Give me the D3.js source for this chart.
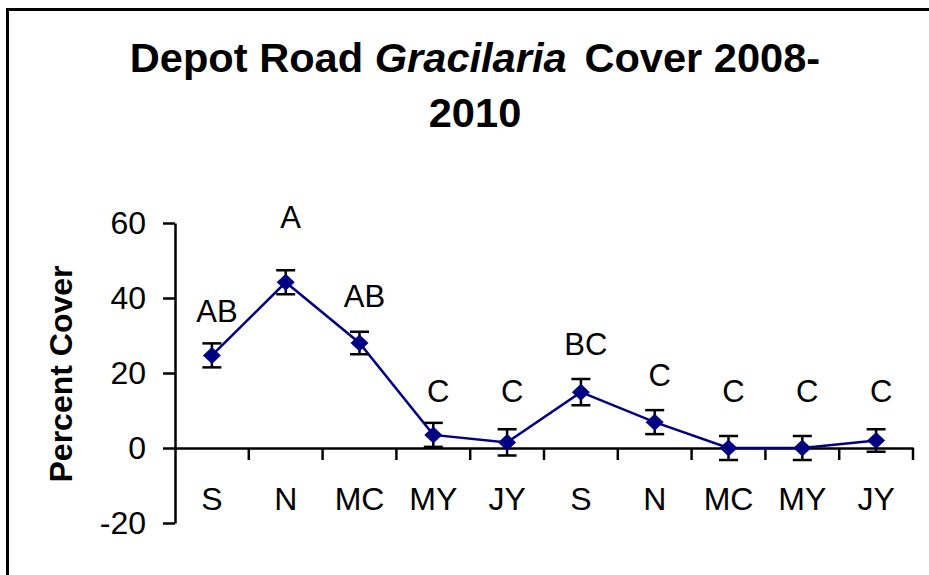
<!DOCTYPE html>
<html>
<head>
<meta charset="utf-8">
<script src="https://cdn.jsdelivr.net/npm/d3@7"></script>
<style>
    body { margin: 0; background: #fff; }
    svg { display: block; }
    svg text { font-family: "Liberation Sans", Arial, sans-serif; }
</style>
</head>
<body>
<svg id="chart" width="929" height="575"></svg>
<script>
// sampling months, two seasons
const months = ["S", "N", "MC", "MY", "JY", "S", "N", "MC", "MY", "JY"];
const cover = [24.7, 44.2, 28.0, 3.5, 1.5, 14.9, 6.9, 0, 0, 2.0];
const stdErr = [3.2, 3.2, 3.0, 3.2, 3.5, 3.5, 3.2, 3.2, 3.2, 3.0];
// significance groups and the value height they sit at
const groups = ["AB", "A", "AB", "C", "C", "BC", "C", "C", "C", "C"];
const groupAt = [33.5, 58.8, 37.5, 12.2, 12.2, 24.7, 16.5, 12.2, 12.2, 12.2];
const yTicks = [-20, 0, 20, 40, 60];

const svg = d3.select("#chart");
const navy = "#000080";

// outer frame (runs off the right/bottom edge like the original)
svg.append("rect")
    .attr("x", 7.5).attr("y", 9.5)
    .attr("width", 960).attr("height", 600)
    .attr("fill", "none").attr("stroke", "#000").attr("stroke-width", 3);

// title
const title = svg.append("text")
    .attr("text-anchor", "middle")
    .attr("font-weight", "bold")
    .attr("font-size", 40)
    .attr("transform", "translate(475,72) scale(1.04,1)");
title.append("tspan").text("Depot Road ");
title.append("tspan").attr("font-style", "italic").text("Gracilaria");
title.append("tspan").attr("dx", 6).text(" Cover 2008-");
svg.append("text")
    .attr("text-anchor", "middle")
    .attr("font-weight", "bold")
    .attr("font-size", 40)
    .attr("transform", "translate(475,127) scale(1.04,1)")
    .text("2010");

const x = d3.scaleBand()
    .domain(d3.range(months.length))
    .range([175, 913]);

const y = d3.scaleLinear()
    .domain([-20, 60])
    .range([523, 223]);

// y axis
const yAxis = svg.append("g")
    .attr("transform", "translate(175,0)")
    .call(d3.axisLeft(y).tickValues(yTicks).tickFormat(d => String(d))
        .tickSize(12).tickSizeOuter(0).tickPadding(17));
yAxis.attr("font-family", null).attr("font-size", null);
yAxis.select(".domain").attr("stroke-width", 2.5);
yAxis.selectAll(".tick line").attr("stroke-width", 2.5);
yAxis.selectAll(".tick text")
    .attr("font-size", 32)
    .attr("fill", "#000");

// x axis at zero
const xAxis = svg.append("g")
    .attr("transform", `translate(0,${y(0)})`)
    .call(d3.axisBottom(x).tickFormat(i => months[i]).tickSize(0).tickSizeOuter(0));
xAxis.attr("font-family", null).attr("font-size", null);
xAxis.select(".domain").attr("stroke-width", 2.5);
xAxis.selectAll(".tick text")
    .attr("font-size", 32)
    .attr("fill", "#000")
    .attr("dy", null)
    .attr("y", 62);

// tick marks between categories
const bounds = d3.range(months.length).map(i => x(i)).concat([x.range()[1]]);
xAxis.selectAll("line.sep")
    .data(bounds.slice(1))
    .enter()
    .append("line")
    .attr("class", "sep")
    .attr("x1", d => d).attr("x2", d => d)
    .attr("y1", 0).attr("y2", 12)
    .attr("stroke", "#000").attr("stroke-width", 2.5);

const cx = i => x(i) + x.bandwidth() / 2;

// connecting line
const line = d3.line()
    .x((d, i) => cx(i))
    .y(d => y(d));
svg.append("path")
    .datum(cover)
    .attr("d", line)
    .attr("fill", "none")
    .attr("stroke", navy)
    .attr("stroke-width", 2.5);

// error bars
const err = svg.append("g")
    .attr("stroke", "#000")
    .attr("stroke-width", 2.5)
    .selectAll("g")
    .data(cover)
    .enter()
    .append("g");
err.append("line")
    .attr("x1", (d, i) => cx(i)).attr("x2", (d, i) => cx(i))
    .attr("y1", (d, i) => y(d + stdErr[i]))
    .attr("y2", (d, i) => y(d - stdErr[i]));
[1, -1].forEach(s => {
    err.append("line")
        .attr("x1", (d, i) => cx(i) - 9.5).attr("x2", (d, i) => cx(i) + 9.5)
        .attr("y1", (d, i) => y(d + s * stdErr[i]))
        .attr("y2", (d, i) => y(d + s * stdErr[i]));
});

// diamond markers
svg.append("g")
    .selectAll("path")
    .data(cover)
    .enter()
    .append("path")
    .attr("d", "M0,-8.5L9,0L0,8.5L-9,0Z")
    .attr("transform", (d, i) => `translate(${cx(i)},${y(d)})`)
    .attr("fill", navy);

// significance letters
svg.append("g")
    .selectAll("text")
    .data(groups)
    .enter()
    .append("text")
    .attr("text-anchor", "middle")
    .attr("font-size", 31)
    .attr("x", (d, i) => cx(i) + 5)
    .attr("y", (d, i) => y(groupAt[i]))
    .text(d => d);

// y axis title
svg.append("text")
    .attr("text-anchor", "middle")
    .attr("font-weight", "bold")
    .attr("font-size", 32)
    .attr("transform", "translate(72,374) rotate(-90)")
    .text("Percent Cover");
</script>
</body>
</html>
